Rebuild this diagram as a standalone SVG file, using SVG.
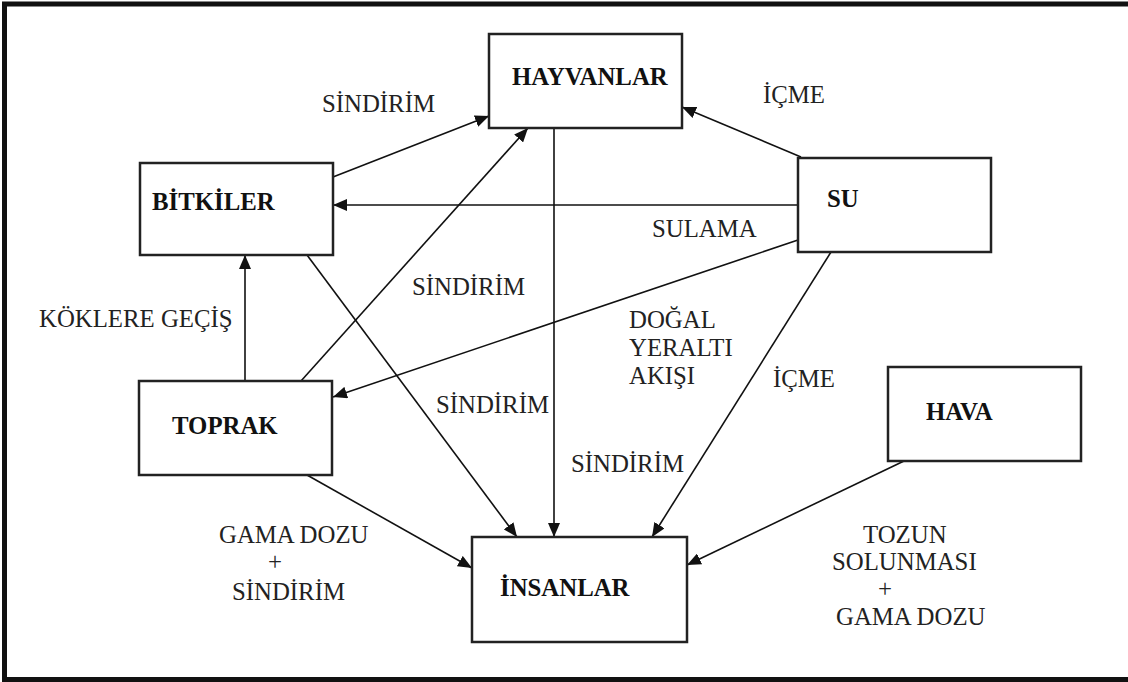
<svg xmlns="http://www.w3.org/2000/svg" width="1128" height="682" viewBox="0 0 1128 682">
<defs>
<marker id="ah" markerUnits="userSpaceOnUse" markerWidth="14" markerHeight="12" refX="14" refY="6" orient="auto">
<path d="M0,0 L14,6 L0,12 z" fill="#111"/>
</marker>
<style>
.box{fill:#fff;stroke:#222;stroke-width:2.5}
.lbl{font-family:"Liberation Serif","Times New Roman",serif;font-size:24.8px;fill:#222}
.nm{font-family:"Liberation Serif","Times New Roman",serif;font-size:24.8px;font-weight:bold;fill:#111}
.c{stroke:#111;stroke-width:1.6;fill:none;marker-end:url(#ah)}
</style>
</defs>
<rect x="0" y="0" width="1128" height="682" fill="#fff"/>
<rect x="4.5" y="4" width="1130" height="675.5" fill="none" stroke="#111" stroke-width="5"/>

<g id="connectors">
<line class="c" x1="333" y1="177" x2="489" y2="116"/>
<line class="c" x1="301" y1="381" x2="528" y2="128"/>
<line class="c" x1="554" y1="128" x2="554" y2="537"/>
<line class="c" x1="801" y1="157" x2="682" y2="107"/>
<line class="c" x1="798" y1="205" x2="333" y2="205"/>
<line class="c" x1="798" y1="240" x2="333" y2="397"/>
<line class="c" x1="307" y1="255" x2="517" y2="537"/>
<line class="c" x1="831" y1="252" x2="652" y2="537"/>
<line class="c" x1="245" y1="381" x2="245" y2="255"/>
<line class="c" x1="307" y1="475" x2="472" y2="568"/>
<line class="c" x1="904" y1="461" x2="687" y2="565"/>
</g>

<g id="hayvanlar"><rect class="box" x="489" y="34" width="193" height="94"/><text class="nm" x="512" y="85">HAYVANLAR</text></g>
<g id="bitkiler"><rect class="box" x="140" y="163" width="193" height="92"/><text class="nm" x="152" y="210">BİTKİLER</text></g>
<g id="su"><rect class="box" x="798" y="158" width="193" height="94"/><text class="nm" x="827" y="207">SU</text></g>
<g id="toprak"><rect class="box" x="139" y="381" width="193" height="94"/><text class="nm" x="172" y="434">TOPRAK</text></g>
<g id="insanlar"><rect class="box" x="472" y="537" width="215" height="105"/><text class="nm" x="500" y="596">İNSANLAR</text></g>
<g id="hava"><rect class="box" x="888" y="367" width="193" height="94"/><text class="nm" x="926" y="420">HAVA</text></g>

<g id="labels">
<text class="lbl" x="322" y="112">SİNDİRİM</text>
<text class="lbl" x="763" y="103">İÇME</text>
<text class="lbl" x="652" y="237">SULAMA</text>
<text class="lbl" x="412" y="295">SİNDİRİM</text>
<text class="lbl" x="39" y="327">KÖKLERE GEÇİŞ</text>
<text class="lbl" x="629" y="328">DOĞAL</text>
<text class="lbl" x="629" y="356">YERALTI</text>
<text class="lbl" x="629" y="384">AKIŞI</text>
<text class="lbl" x="773" y="387">İÇME</text>
<text class="lbl" x="436" y="413">SİNDİRİM</text>
<text class="lbl" x="571" y="472">SİNDİRİM</text>
<text class="lbl" x="219" y="543">GAMA DOZU</text>
<text class="lbl" x="275" y="570" text-anchor="middle">+</text>
<text class="lbl" x="232" y="600">SİNDİRİM</text>
<text class="lbl" x="863" y="543">TOZUN</text>
<text class="lbl" x="832" y="570">SOLUNMASI</text>
<text class="lbl" x="885" y="597" text-anchor="middle">+</text>
<text class="lbl" x="836" y="625">GAMA DOZU</text>
</g>
</svg>
